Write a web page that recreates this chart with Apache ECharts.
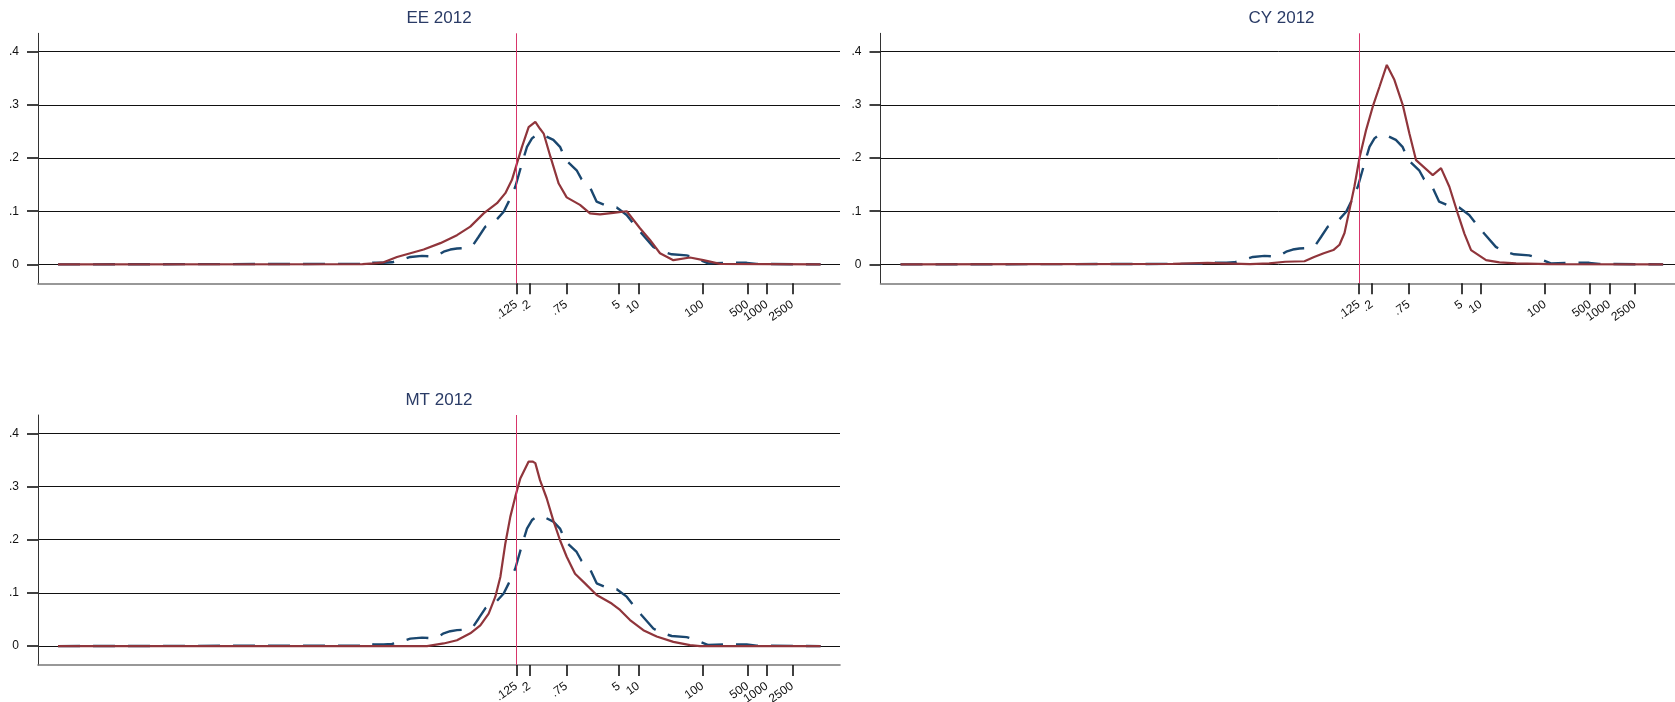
<!DOCTYPE html>
<html>
<head>
<meta charset="utf-8">
<script src="https://cdn.jsdelivr.net/npm/echarts@6/dist/echarts.min.js"></script>
<style>
  html, body { margin: 0; padding: 0; background: #fff; }
  #chart { width: 1675px; height: 702px; }
</style>
</head>
<body>
<div id="chart"></div>
<script>
// ---- tick labels ----
const xTickValues = [0.125, 0.2, 0.75, 5, 10, 100, 500, 1000, 2500];
const xTickLabels = ['.125', '.2', '.75', '5', '10', '100', '500', '1000', '2500'];
const yTickValues = [0, 0.1, 0.2, 0.3, 0.4];
const yTickLabels = ['0', '.1', '.2', '.3', '.4'];
const panelTitles = ['EE 2012', 'CY 2012', 'MT 2012'];
const thresholdValue = 0.125;

// ---- data: x positions in log10 units, kernel density values ----
const refLogX = [-8.045, -3.8, -3.334, -3.256, -3.126, -2.971, -2.841, -2.711, -2.555, -2.373, -2.243, -2.139, -2.035, -1.932, -1.828, -1.672, -1.568, -1.490, -1.386, -1.204, -1.100, -1.022, -0.919, -0.815, -0.737, -0.659, -0.581, -0.477, -0.326, -0.222, -0.129, 0.037, 0.115, 0.245, 0.349, 0.505, 0.661, 0.817, 0.920, 1.050, 1.232, 1.336, 1.518, 1.751, 1.907, 2.089, 2.323, 2.687, 2.842, 3.839];
const refDensity = [0, 0.001, 0.001, 0.006, 0.003, 0.003, 0.004, 0.008, 0.014, 0.016, 0.015, 0.016, 0.024, 0.028, 0.030, 0.031, 0.038, 0.052, 0.071, 0.085, 0.099, 0.118, 0.146, 0.190, 0.221, 0.237, 0.244, 0.243, 0.234, 0.221, 0.196, 0.177, 0.160, 0.145, 0.118, 0.110, 0.107, 0.093, 0.077, 0.058, 0.033, 0.026, 0.019, 0.017, 0.011, 0.002, 0.003, 0.003, 0.001, 0];

const eeLogX = [-8.045, -3.3, -3.126, -2.971, -2.763, -2.555, -2.347, -2.087, -1.828, -1.620, -1.412, -1.204, -1.074, -0.971, -0.893, -0.815, -0.711, -0.607, -0.534, -0.477, -0.373, -0.243, -0.118, 0.089, 0.245, 0.401, 0.609, 0.817, 1.024, 1.180, 1.336, 1.544, 1.804, 2.011, 2.271, 3.839];
const eeDensity = [0, 0.0005, 0.002, 0.004, 0.014, 0.021, 0.028, 0.040, 0.055, 0.071, 0.096, 0.115, 0.134, 0.159, 0.190, 0.221, 0.258, 0.268, 0.255, 0.246, 0.203, 0.152, 0.126, 0.112, 0.096, 0.094, 0.097, 0.100, 0.068, 0.046, 0.021, 0.008, 0.013, 0.008, 0.001, 0];

const cyLogX = [-8.045, -3.8, -3.26, -3.0, -2.6, -2.3, -2.05, -1.75, -1.6, -1.45, -1.3, -1.204, -1.126, -1.048, -0.971, -0.893, -0.789, -0.685, -0.581, -0.467, -0.349, -0.219, -0.115, -0.011, 0.119, 0.249, 0.378, 0.508, 0.638, 0.742, 0.846, 1.080, 1.288, 1.547, 2.067, 3.839];
const cyDensity = [0, 0.001, 0.003, 0.002, 0.0005, 0.002, 0.005, 0.006, 0.014, 0.021, 0.027, 0.037, 0.059, 0.103, 0.147, 0.200, 0.253, 0.297, 0.334, 0.375, 0.347, 0.300, 0.246, 0.196, 0.182, 0.168, 0.181, 0.146, 0.096, 0.058, 0.027, 0.008, 0.004, 0.002, 0.0005, 0];

const mtLogX = [-8.045, -2.295, -2.035, -1.828, -1.620, -1.464, -1.334, -1.230, -1.152, -1.074, -0.997, -0.919, -0.841, -0.711, -0.650, -0.607, -0.534, -0.430, -0.326, -0.222, -0.118, 0.012, 0.167, 0.349, 0.583, 0.713, 0.869, 1.076, 1.284, 1.544, 1.804, 1.960, 3.839];
const mtDensity = [0, 0, 0.005, 0.011, 0.024, 0.039, 0.061, 0.093, 0.130, 0.193, 0.243, 0.281, 0.315, 0.347, 0.347, 0.344, 0.312, 0.278, 0.236, 0.199, 0.168, 0.136, 0.118, 0.096, 0.080, 0.068, 0.049, 0.030, 0.018, 0.008, 0.002, 0, 0];

// ---- build options ----
const panelX = [eeLogX, cyLogX, mtLogX];
const panelY = [eeDensity, cyDensity, mtDensity];
const xTickPos = xTickValues.map(v => Math.log10(v));
const pair = (xs, ys) => xs.map((x, i) => [x, ys[i]]);

const gridBoxes = [
  { left: 38, top: 33.3, width: 802, height: 250 },
  { left: 880.5, top: 33.3, width: 802, height: 250 },
  { left: 38, top: 415, width: 802, height: 250 }
];
const xMin = -8.357, xMax = 4.141;
const yMin = -0.0355, yMax = 0.4345;
const FONT = 'Liberation Sans, Arial, sans-serif';

const xFmt = v => {
  for (let i = 0; i < xTickPos.length; i++) if (Math.abs(xTickPos[i] - v) < 1e-6) return xTickLabels[i];
  return '';
};
const yFmt = v => {
  for (let i = 0; i < yTickValues.length; i++) if (Math.abs(yTickValues[i] - v) < 1e-9) return yTickLabels[i];
  return '';
};

const grid = [], xAxis = [], yAxis = [], series = [], title = [];
gridBoxes.forEach((g, i) => {
  grid.push(Object.assign({ containLabel: false, outerBoundsMode: 'none' }, g));
  title.push({
    text: panelTitles[i], left: g.left + g.width / 2, top: g.top - 23, textAlign: 'center', padding: 0,
    textStyle: { fontFamily: FONT, fontSize: 17, fontWeight: 'normal', color: '#2a3b66' }
  });
  xAxis.push({
    type: 'value', gridIndex: i, min: xMin, max: xMax,
    axisLine: { show: true, onZero: false, lineStyle: { color: '#777', width: 1.6 } },
    axisTick: { show: true, customValues: xTickPos, length: 11, lineStyle: { color: '#111', width: 1.6 } },
    axisLabel: { show: true, customValues: xTickPos, formatter: xFmt, rotate: 35, margin: 20,
      fontFamily: FONT, fontSize: 12, color: '#111' },
    splitLine: { show: false }
  });
  yAxis.push({
    type: 'value', gridIndex: i, min: yMin, max: yMax,
    axisLine: { show: true, onZero: false, lineStyle: { color: '#333', width: 1 } },
    axisTick: { show: true, customValues: yTickValues, length: 11, lineStyle: { color: '#111', width: 1.6 } },
    axisLabel: { show: true, customValues: yTickValues, formatter: yFmt, margin: 19,
      fontFamily: FONT, fontSize: 12, color: '#111' },
    splitLine: { show: true, lineStyle: { color: '#111', width: 1 } }
  });
  series.push({
    type: 'line', xAxisIndex: i, yAxisIndex: i, data: pair(refLogX, refDensity),
    showSymbol: false, symbol: 'none', z: 3,
    lineStyle: { color: '#1a476f', width: 2.4, type: [22, 13] },
    markLine: {
      silent: true, symbol: ['none', 'none'], label: { show: false },
      lineStyle: { color: '#d8356a', width: 1, type: 'solid' },
      data: [{ xAxis: Math.log10(thresholdValue) }]
    }
  });
  series.push({
    type: 'line', xAxisIndex: i, yAxisIndex: i, data: pair(panelX[i], panelY[i]),
    showSymbol: false, symbol: 'none', z: 4,
    lineStyle: { color: '#90353b', width: 2.2 }
  });
});

const chart = echarts.init(document.getElementById('chart'), null, { renderer: 'canvas' });
chart.setOption({
  animation: false,
  backgroundColor: '#ffffff',
  title, grid, xAxis, yAxis, series
});
</script>
</body>
</html>
